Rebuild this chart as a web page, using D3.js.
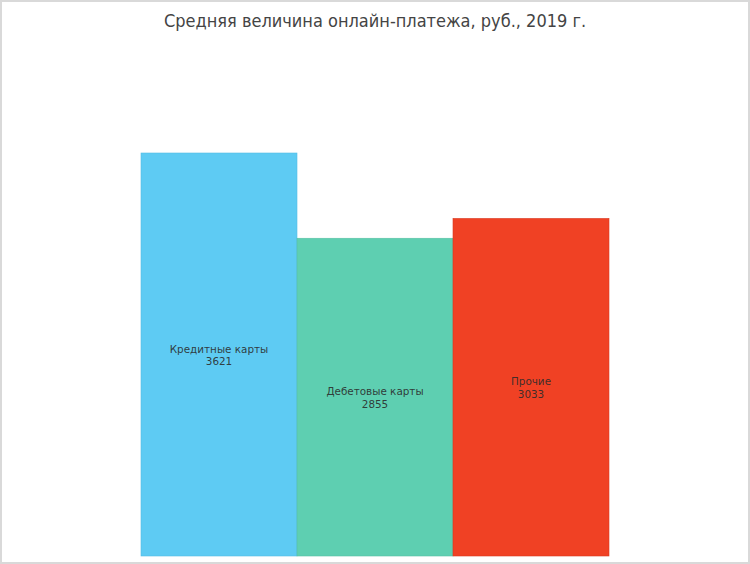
<!DOCTYPE html>
<html>
<head>
<meta charset="utf-8">
<script src="https://cdn.jsdelivr.net/npm/d3@7"></script>
<style>
  html, body { margin: 0; padding: 0; background: #fff; }
  svg { display: block; }
</style>
</head>
<body>
<svg id="chart"></svg>
<script>
// chart data
var categories = ["Кредитные карты", "Дебетовые карты", "Прочие"];
var values = [3621, 2855, 3033];
var colors = ["#5ecbf3", "#5ecfb1", "#f04124"];
var strokes = ["#56bde4", "#57c0a4", "#d93a20"];
var title = "Средняя величина онлайн-платежа, руб., 2019 г.";

var width = 750
  , height = 564
  , plotLeft = 141
  , plotRight = 609
  , plotBottom = 556
  , plotTop = 153;

var svg = d3.select("#chart").attr("width", width).attr("height", height);

// outer frame
svg.append("rect")
  .attr("x", 1).attr("y", 1)
  .attr("width", width - 2).attr("height", height - 2)
  .attr("fill", "#fff")
  .attr("stroke", "#d9d9d9")
  .attr("stroke-width", 2);

// title
svg.append("text")
  .attr("x", width / 2)
  .attr("y", 27)
  .attr("text-anchor", "middle")
  .attr("font-family", "'DejaVu Sans Condensed', 'DejaVu Sans', sans-serif")
  .attr("font-size", 18)
  .attr("fill", "#444")
  .text(title);

// scales
var x = d3.scaleBand().domain(categories).range([plotLeft, plotRight]).padding(0);
var y = d3.scaleLinear().domain([0, d3.max(values)]).range([plotBottom, plotTop]);

var data = categories.map(function(c, i){
  return {name: c, value: values[i], color: colors[i], stroke: strokes[i]};
});

var bar = svg.selectAll("g.bar")
  .data(data)
  .enter().append("g")
  .attr("class", "bar");

bar.append("rect")
  .attr("x", function(d){ return x(d.name); })
  .attr("y", function(d){ return y(d.value); })
  .attr("width", x.bandwidth())
  .attr("height", function(d){ return y(0) - y(d.value); })
  .attr("fill", function(d){ return d.color; })
  .attr("stroke", function(d){ return d.stroke; })
  .attr("stroke-width", 0.6);

// labels in the middle of each bar
var label = bar.append("text")
  .attr("text-anchor", "middle")
  .attr("font-family", "'DejaVu Sans', sans-serif")
  .attr("font-size", 10.4)
  .attr("fill", "#2b2b2b")
  .attr("fill-opacity", 0.9)
  .attr("transform", function(d){
    var cy = (y(d.value) + y(0)) / 2;
    return "translate(" + (x(d.name) + x.bandwidth() / 2) + "," + cy + ")";
  });

label.append("tspan")
  .attr("x", 0).attr("y", -2)
  .text(function(d){ return d.name; });

label.append("tspan")
  .attr("x", 0).attr("y", 10.5)
  .text(function(d){ return d.value; });
</script>
</body>
</html>
